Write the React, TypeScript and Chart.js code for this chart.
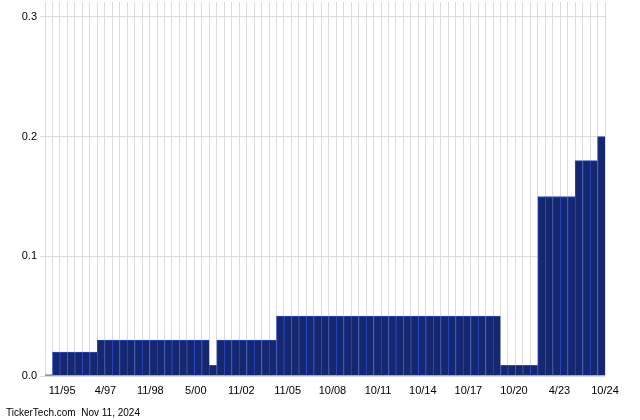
import React, { useEffect, useRef } from 'react';
import { Chart, registerables } from 'chart.js';

Chart.register(...registerables);

// Dividend amount per payment (one bar per payment, oldest first)
const dividends: number[] = [
  0.001,
  0.02, 0.02, 0.02, 0.02, 0.02, 0.02,
  0.03, 0.03, 0.03, 0.03, 0.03, 0.03, 0.03, 0.03, 0.03, 0.03, 0.03, 0.03, 0.03, 0.03, 0.03,
  0.009,
  0.03, 0.03, 0.03, 0.03, 0.03, 0.03, 0.03, 0.03,
  0.05, 0.05, 0.05, 0.05, 0.05, 0.05, 0.05, 0.05, 0.05, 0.05,
  0.05, 0.05, 0.05, 0.05, 0.05, 0.05, 0.05, 0.05, 0.05, 0.05,
  0.05, 0.05, 0.05, 0.05, 0.05, 0.05, 0.05, 0.05, 0.05, 0.05,
  0.009, 0.009, 0.009, 0.009, 0.009,
  0.15, 0.15, 0.15, 0.15, 0.15,
  0.18, 0.18, 0.18,
  0.2,
];

// Date labels on the x axis and where they sit along the payment axis
const xTickLabels: string[] = ['11/95', '4/97', '11/98', '5/00', '11/02', '11/05', '10/08', '10/11', '10/14', '10/17', '10/20', '4/23', '10/24'];
const xTickPositions: number[] = [2.3, 8.1, 14.1, 20.2, 26.3, 32.5, 38.5, 44.6, 50.6, 56.7, 62.8, 68.9, 75];

const yTicks: number[] = [0, 0.1, 0.2, 0.3];
const yMax = 0.3125;

const footerText = 'TickerTech.com  Nov 11, 2024';

const FONT = "'Liberation Sans', Arial, sans-serif";

export default function App() {
  const canvasRef = useRef<HTMLCanvasElement | null>(null);

  useEffect(() => {
    document.body.style.margin = '0';
    const canvas = canvasRef.current;
    if (!canvas) return;

    const n = dividends.length;
    const data = dividends.map((v, i) => ({ x: i + 0.5, y: v }));

    const footerPlugin = {
      id: 'footer',
      afterDraw(chart: any) {
        const ctx = chart.ctx;
        ctx.save();
        ctx.font = `10px ${FONT}`;
        ctx.fillStyle = '#000';
        ctx.textBaseline = 'middle';
        ctx.textAlign = 'left';
        ctx.fillText(footerText, 6, 413);
        ctx.restore();
      },
    };

    const chart = new Chart(canvas, {
      type: 'bar',
      data: {
        datasets: [
          {
            data,
            xAxisID: 'x',
            backgroundColor: '#15276f',
            borderColor: '#2c47c2',
            borderWidth: { left: 1, top: 1, right: 0, bottom: 0 } as any,
            borderSkipped: 'start',
            barPercentage: 1,
            categoryPercentage: 1,
          },
        ],
      },
      options: {
        animation: false,
        responsive: false,
        maintainAspectRatio: false,
        layout: { padding: { top: 2, right: 35, bottom: 0, left: 0 } },
        plugins: {
          legend: { display: false },
          tooltip: { enabled: false },
        },
        scales: {
          x: {
            type: 'linear',
            position: 'bottom',
            offset: false,
            min: 0,
            max: n,
            border: { display: false },
            grid: {
              color: '#dcdcdc',
              drawTicks: false,
              offset: false,
              lineWidth: 1,
            },
            afterBuildTicks: (scale: any) => {
              const t: { value: number }[] = [];
              for (let i = 0; i <= n; i++) t.push({ value: i });
              scale.ticks = t;
            },
            afterFit: (scale: any) => {
              scale.height = 0;
              scale.paddingLeft = 0;
              scale.paddingRight = 0;
            },
            ticks: {
              display: false,
              autoSkip: false,
            },
          },
          xLabels: {
            type: 'linear',
            position: 'bottom',
            offset: false,
            min: 0,
            max: n,
            border: { display: false },
            grid: { display: false, drawTicks: false, offset: false },
            afterBuildTicks: (scale: any) => {
              scale.ticks = xTickPositions.map((v) => ({ value: v }));
            },
            afterFit: (scale: any) => {
              scale.height = 44;
              scale.paddingLeft = 0;
              scale.paddingRight = 0;
            },
            ticks: {
              autoSkip: false,
              maxRotation: 0,
              minRotation: 0,
              padding: 8,
              color: '#000',
              font: { family: FONT, size: 11 },
              callback: (value: any) => {
                const idx = xTickPositions.indexOf(Number(value));
                return idx >= 0 ? xTickLabels[idx] : '';
              },
            },
          },
          y: {
            type: 'linear',
            min: 0,
            max: yMax,
            border: { display: false },
            grid: {
              color: '#dcdcdc',
              tickLength: 5,
              drawTicks: true,
            },
            afterBuildTicks: (scale: any) => {
              scale.ticks = yTicks.map((v) => ({ value: v }));
            },
            afterFit: (scale: any) => {
              scale.width = 45;
              scale.paddingTop = 0;
              scale.paddingBottom = 0;
            },
            ticks: {
              padding: 3,
              color: '#000',
              font: { family: FONT, size: 11 },
              callback: (value: any) => Number(value).toFixed(1),
            },
          },
        },
      },
      plugins: [footerPlugin],
    });

    return () => {
      chart.destroy();
    };
  }, []);

  return (
    <div style={{ width: 640, height: 420, background: '#fff' }}>
      <canvas ref={canvasRef} width={640} height={420} style={{ display: 'block' }} />
    </div>
  );
}
